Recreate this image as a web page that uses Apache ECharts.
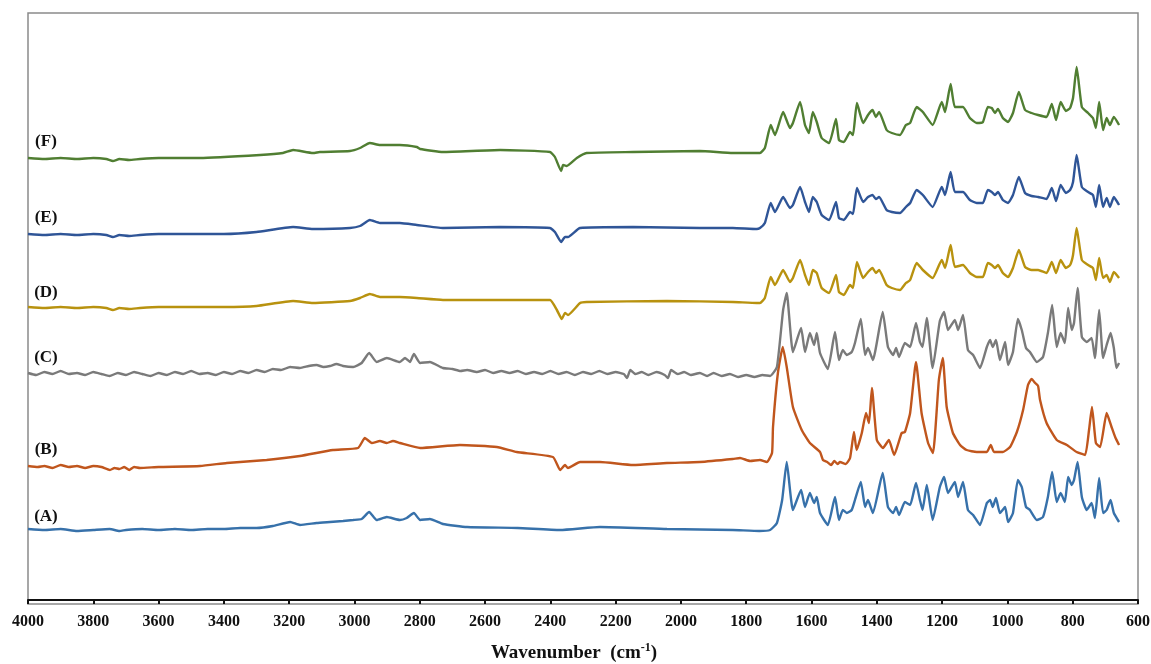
<!DOCTYPE html>
<html>
<head>
<meta charset="utf-8">
<script src="https://cdn.jsdelivr.net/npm/echarts@6/dist/echarts.min.js"></script>
<style>
  html, body { margin: 0; padding: 0; background: #fff; }
  #chart { width: 1151px; height: 664px; }
</style>
</head>
<body>
<div id="chart"></div>
<script>
// tick labels on x (wavenumber, cm-1)
var xMin = 600, xMax = 4000, xStep = 200;

// series names and colours, bottom to top
var names = ['(A)', '(B)', '(C)', '(D)', '(E)', '(F)'];
var colors = ['#3771AA', '#C0561D', '#7A7A7A', '#B8920F', '#2F5597', '#507E32'];

// spectra: [wavenumber, offset intensity]
var specA = [[4000,71],[3950,70],[3900,71],[3850,69],[3800,70],[3750,71],[3720,69],[3700,70],[3650,71],[3600,70],[3550,71],[3500,70],[3450,71],[3400,71],[3350,72],[3300,72],[3250,74],[3197,78],[3167,75],[3116,77],[3075,78],[3035,79],[3004,80],[2978,81],[2955,88],[2932,80],[2901,83],[2861,80],[2840,82],[2818,87],[2799,80],[2769,81],[2729,76],[2655,73],[2500,72],[2370,70],[2248,73],[2043,71],[1841,70],[1760,69],[1727,70],[1706,77],[1690,100],[1676,138],[1657,90],[1632,110],[1620,93],[1605,107],[1592,97],[1584,103],[1574,87],[1550,75],[1528,103],[1516,80],[1504,90],[1492,87],[1477,90],[1467,100],[1449,118],[1436,93],[1427,100],[1412,87],[1382,127],[1366,93],[1350,87],[1341,93],[1332,85],[1314,98],[1298,95],[1280,117],[1268,100],[1260,90],[1247,115],[1229,80],[1207,113],[1194,123],[1182,107],[1161,118],[1151,103],[1136,118],[1121,90],[1105,85],[1084,75],[1063,97],[1053,100],[1045,93],[1035,102],[1023,87],[1007,93],[998,78],[983,87],[968,120],[956,113],[943,93],[931,90],[910,80],[891,83],[876,103],[863,128],[849,98],[837,107],[824,98],[814,123],[803,115],[796,120],[785,138],[772,103],[757,90],[742,97],[732,82],[719,122],[707,87],[696,90],[684,100],[674,87],[658,78]];

var specB = [[4000,134],[3970,133],[3950,134],[3925,132],[3900,135],[3875,133],[3850,134],[3825,132],[3800,134],[3775,133],[3749,130],[3735,132],[3720,131],[3705,133],[3690,130],[3675,133],[3657,132],[3600,133],[3473,134],[3391,137],[3269,140],[3167,144],[3066,150],[2989,152],[2968,162],[2947,157],[2922,159],[2901,157],[2882,159],[2861,157],[2799,152],[2677,155],[2564,153],[2503,148],[2392,143],[2370,130],[2355,135],[2346,132],[2309,138],[2248,138],[2147,135],[2043,137],[1942,138],[1841,141],[1819,142],[1788,139],[1758,140],[1737,138],[1721,147],[1718,173],[1703,227],[1688,253],[1676,233],[1657,193],[1630,170],[1605,157],[1574,148],[1565,140],[1552,138],[1540,135],[1530,139],[1520,136],[1513,138],[1495,136],[1482,142],[1470,168],[1462,150],[1446,167],[1433,187],[1424,177],[1415,212],[1400,160],[1381,152],[1363,160],[1347,145],[1324,167],[1314,168],[1298,187],[1280,238],[1263,187],[1243,157],[1228,147],[1210,220],[1198,242],[1186,193],[1167,167],[1145,155],[1125,150],[1094,148],[1063,148],[1051,155],[1041,148],[1014,148],[992,153],[971,168],[952,190],[937,215],[926,221],[915,217],[906,214],[900,200],[880,177],[849,160],[818,155],[788,148],[762,145],[750,170],[741,193],[729,157],[716,153],[696,187],[681,173],[670,163],[658,155]];

var specC = [[4000,227],[3975,225],[3950,228],[3925,226],[3900,229],[3875,226],[3850,227],[3825,225],[3800,228],[3775,226],[3750,224],[3725,227],[3700,225],[3675,228],[3650,226],[3625,224],[3600,227],[3575,225],[3550,228],[3525,226],[3500,229],[3475,226],[3450,227],[3425,225],[3400,228],[3375,226],[3350,229],[3325,227],[3300,230],[3275,228],[3250,231],[3225,230],[3197,233],[3167,232],[3140,234],[3116,235],[3095,233],[3075,234],[3055,236],[3035,234],[3004,233],[2978,237],[2955,247],[2932,238],[2901,242],[2861,238],[2845,242],[2830,238],[2818,246],[2799,237],[2769,238],[2729,232],[2700,231],[2675,229],[2655,230],[2625,228],[2600,230],[2575,227],[2550,229],[2525,227],[2500,229],[2475,226],[2450,228],[2425,226],[2400,229],[2375,226],[2350,228],[2325,225],[2300,228],[2275,226],[2250,229],[2225,226],[2200,228],[2175,226],[2165,222],[2155,230],[2140,226],[2120,228],[2100,225],[2075,228],[2050,225],[2040,222],[2030,230],[2010,226],[1990,228],[1970,225],[1942,227],[1920,224],[1900,227],[1875,224],[1850,226],[1825,223],[1800,225],[1775,223],[1750,225],[1727,224],[1706,233],[1687,290],[1676,307],[1657,248],[1632,272],[1620,248],[1605,267],[1592,255],[1584,267],[1574,247],[1550,231],[1528,268],[1516,240],[1504,250],[1492,245],[1477,248],[1467,257],[1449,281],[1436,245],[1427,252],[1412,240],[1382,288],[1366,253],[1350,245],[1341,252],[1332,243],[1314,257],[1298,253],[1280,277],[1268,258],[1260,253],[1247,282],[1229,232],[1207,279],[1194,288],[1182,270],[1161,280],[1151,270],[1136,285],[1121,250],[1105,245],[1084,232],[1063,253],[1053,260],[1045,253],[1035,260],[1023,240],[1007,258],[998,235],[983,248],[968,281],[956,270],[943,252],[931,248],[910,238],[891,243],[876,267],[863,295],[849,253],[837,267],[824,257],[814,292],[803,270],[796,277],[785,312],[772,263],[757,258],[742,262],[732,242],[719,290],[707,242],[696,255],[684,267],[674,252],[666,232],[658,237]];

var specD = [[4000,293],[3950,292],[3900,293],[3850,292],[3800,293],[3760,292],[3740,290],[3720,292],[3690,291],[3657,292],[3600,293],[3500,293],[3400,293],[3300,294],[3188,299],[3127,297],[3014,299],[2983,302],[2953,306],[2922,303],[2861,303],[2809,302],[2729,300],[2554,300],[2401,300],[2380,290],[2365,281],[2355,287],[2346,285],[2309,297],[2289,298],[2043,299],[1841,298],[1768,297],[1758,297],[1743,302],[1725,323],[1712,315],[1687,330],[1666,318],[1657,322],[1635,340],[1620,325],[1608,315],[1596,330],[1584,327],[1569,312],[1546,307],[1525,325],[1516,308],[1501,305],[1482,315],[1473,312],[1461,338],[1442,322],[1427,328],[1413,332],[1403,327],[1393,330],[1370,315],[1354,312],[1329,310],[1311,317],[1298,320],[1278,337],[1259,330],[1229,322],[1201,340],[1191,332],[1174,355],[1161,333],[1136,335],[1115,327],[1094,323],[1075,323],[1060,337],[1048,335],[1038,332],[1029,335],[1014,327],[998,323],[983,332],[965,350],[946,333],[926,330],[906,330],[880,327],[864,338],[851,327],[837,340],[821,332],[808,335],[799,345],[788,372],[772,340],[753,335],[738,332],[729,320],[719,342],[707,322],[696,325],[686,318],[674,328],[658,322]];

var specE = [[4000,366],[3950,365],[3900,366],[3850,365],[3800,366],[3760,365],[3740,363],[3720,365],[3690,364],[3657,365],[3600,366],[3500,366],[3400,366],[3300,368],[3188,373],[3127,371],[3014,372],[2983,374],[2953,380],[2922,377],[2861,377],[2809,375],[2729,372],[2554,373],[2401,372],[2386,368],[2367,358],[2355,363],[2346,363],[2309,372],[2147,373],[1942,372],[1841,372],[1768,371],[1758,372],[1743,377],[1725,397],[1712,388],[1687,403],[1666,392],[1657,395],[1635,413],[1620,398],[1608,388],[1596,403],[1584,398],[1569,385],[1546,380],[1525,398],[1516,382],[1501,380],[1482,388],[1473,386],[1461,412],[1442,398],[1427,403],[1413,405],[1403,401],[1393,403],[1370,390],[1354,388],[1329,387],[1311,393],[1298,397],[1278,410],[1259,405],[1229,393],[1201,413],[1191,405],[1174,428],[1161,408],[1136,408],[1115,400],[1094,397],[1075,397],[1060,410],[1048,408],[1038,405],[1029,408],[1014,400],[998,397],[983,405],[965,423],[946,407],[926,404],[906,403],[880,401],[864,412],[851,399],[837,415],[821,407],[808,410],[799,418],[788,445],[772,413],[753,408],[738,405],[729,393],[719,415],[707,393],[696,402],[686,393],[674,403],[658,395]];

var specF = [[4000,442],[3950,441],[3900,442],[3850,441],[3800,442],[3760,441],[3740,439],[3720,441],[3690,440],[3657,441],[3600,442],[3473,442],[3289,445],[3219,447],[3188,450],[3127,447],[3106,448],[3014,449],[2983,452],[2953,457],[2922,455],[2861,455],[2809,453],[2799,451],[2729,448],[2554,450],[2401,448],[2386,443],[2367,429],[2361,435],[2350,434],[2319,442],[2289,447],[2147,448],[1942,449],[1841,447],[1768,447],[1758,447],[1743,452],[1725,475],[1712,465],[1687,488],[1666,472],[1657,477],[1635,498],[1620,475],[1608,467],[1596,488],[1584,478],[1569,462],[1546,457],[1525,481],[1516,460],[1501,458],[1482,468],[1473,465],[1461,497],[1442,477],[1427,485],[1413,490],[1403,483],[1393,488],[1370,470],[1354,467],[1329,465],[1311,475],[1298,477],[1278,493],[1259,488],[1229,475],[1201,498],[1191,488],[1174,516],[1161,493],[1136,493],[1115,482],[1094,477],[1075,478],[1060,493],[1048,492],[1038,487],[1029,491],[1014,482],[998,478],[983,487],[965,508],[946,490],[926,487],[906,485],[880,483],[864,496],[851,480],[837,498],[821,489],[808,492],[799,502],[788,533],[772,493],[753,487],[738,482],[729,472],[719,498],[707,470],[696,482],[686,475],[674,483],[658,475]];

var spectra = [specA, specB, specC, specD, specE, specF];
// label anchor: wavenumber and height of each (A)..(F) tag
var labelWn = 3945;
var labelY = [83, 150, 242, 307, 382, 458];

var chart = echarts.init(document.getElementById('chart'));
var serif = 'Liberation Serif, Times New Roman, serif';

var series = spectra.map(function (d, i) {
  return {
    name: names[i],
    type: 'line',
    data: d,
    showSymbol: false,
    smooth: 0.15,
    lineStyle: { color: colors[i], width: 2.4 },
    itemStyle: { color: colors[i] },
    z: 3,
    markPoint: {
      symbol: 'rect',
      symbolSize: 1,
      itemStyle: { color: 'rgba(0,0,0,0)' },
      label: {
        show: true,
        position: 'inside',
        formatter: names[i],
        color: '#111',
        fontFamily: serif,
        fontWeight: 'bold',
        fontSize: 17
      },
      data: [{ coord: [labelWn, labelY[i]] }]
    }
  };
});

chart.setOption({
  animation: false,
  backgroundColor: '#fff',
  grid: {
    left: 28, right: 13, top: 13, bottom: 60,
    outerBoundsMode: 'none',
    show: true, borderColor: '#8a8a8a', borderWidth: 1.5
  },
  xAxis: {
    type: 'value',
    min: xMin, max: xMax, interval: xStep,
    inverse: true,
    name: 'Wavenumber  (cm{sup|-1})',
    nameLocation: 'middle',
    nameGap: 38,
    nameTextStyle: {
      fontFamily: serif, fontWeight: 'bold', fontSize: 19, color: '#111',
      lineHeight: 22,
      padding: [0, 18, 0, 0],
      rich: { sup: { fontFamily: serif, fontWeight: 'bold', fontSize: 12, lineHeight: 22, color: '#111', verticalAlign: 'top' } }
    },
    axisLine: { show: true, lineStyle: { color: '#111', width: 2 } },
    axisTick: { show: true, length: 4, lineStyle: { color: '#111', width: 2 } },
    axisLabel: {
      fontFamily: serif, fontWeight: 'bold', fontSize: 16, color: '#111', margin: 10,
      formatter: function (v) { return String(v); }
    },
    splitLine: { show: false }
  },
  yAxis: {
    type: 'value',
    min: -4, max: 587,
    show: false,
    splitLine: { show: false }
  },
  series: series
});
</script>
</body>
</html>
